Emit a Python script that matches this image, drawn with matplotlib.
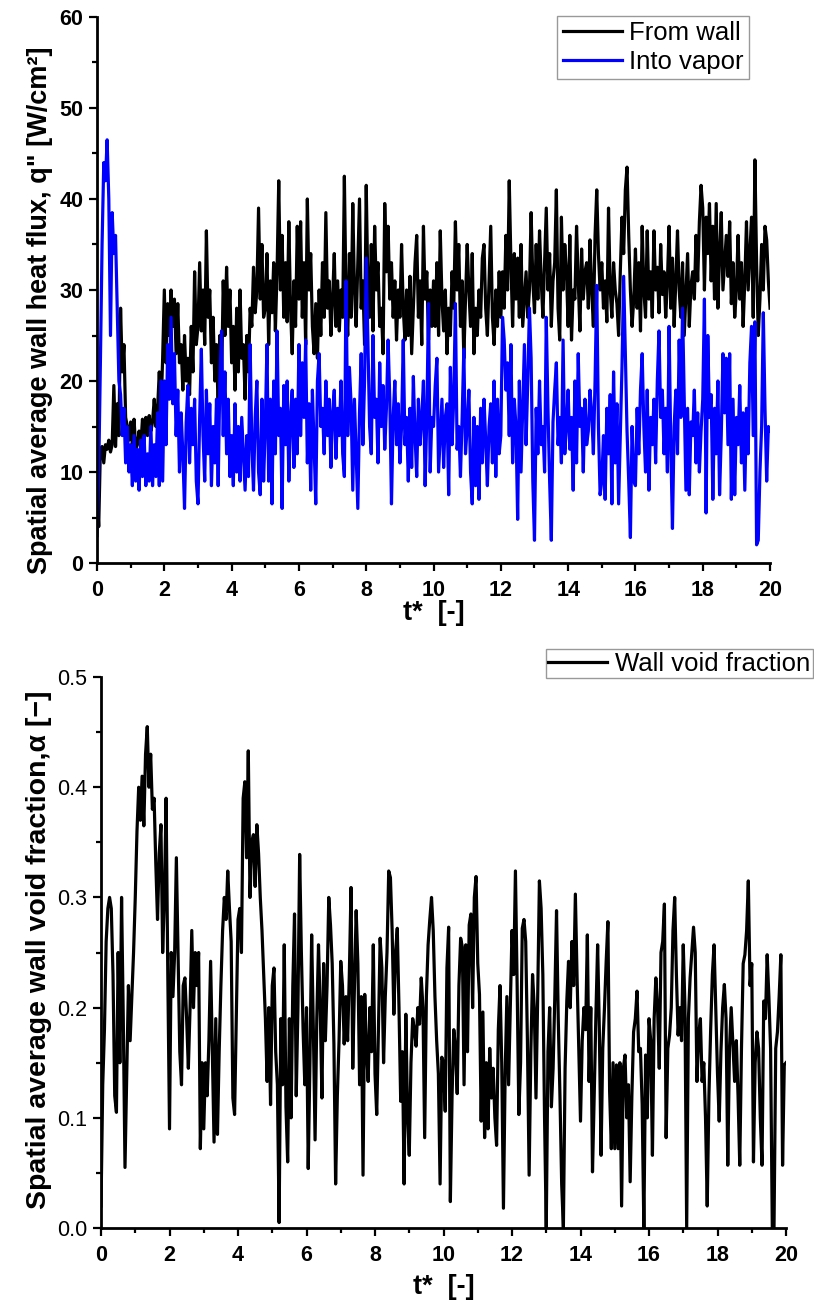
import numpy as np
import matplotlib
matplotlib.use("Agg")
import matplotlib.pyplot as plt
from matplotlib.ticker import MultipleLocator, FormatStrFormatter

plt.rcParams['font.family'] = ['Liberation Sans', 'DejaVu Sans']

# ---------------- data (sampled every 0.05 in t*) ----------------
q_from_wall = [
    8.0, 4.0, 12.5, 12.8, 11.0, 13.0, 12.5, 13.5, 12.2, 13.0, 19.5, 12.8, 17.5, 14.0, 28.0, 21.0, 24.0, 16.0, 15.0, 13.5,
    15.5, 13.0, 15.8, 12.5, 13.0, 14.5, 12.8, 15.8, 13.5, 16.0, 14.0, 16.2, 14.5, 15.5, 18.0, 15.0, 17.0, 21.0, 16.5, 22.5,
    30.0, 22.0, 28.5, 25.0, 30.0, 26.0, 29.0, 23.0, 28.5, 22.0, 24.0, 19.0, 25.0, 20.0, 22.5, 18.5, 26.0, 21.0, 32.0, 24.0,
    26.0, 33.0, 25.5, 30.0, 24.0, 36.5, 27.0, 30.0, 22.0, 27.0, 20.0, 24.0, 17.0, 25.0, 19.5, 31.0, 25.0, 32.5, 26.0, 30.0,
    22.0, 26.0, 19.0, 28.0, 21.0, 30.0, 22.5, 24.0, 18.0, 25.0, 21.0, 28.0, 26.0, 32.5, 27.5, 30.0, 39.0, 29.0, 35.0, 27.0,
    28.0, 34.0, 24.0, 31.0, 27.5, 33.0, 25.5, 32.0, 42.0, 30.0, 36.0, 27.0, 33.0, 26.5, 37.5, 28.0, 23.0, 31.0, 26.0, 37.0,
    29.0, 37.5, 27.0, 33.0, 24.0, 40.0, 30.0, 34.0, 26.0, 23.0, 28.5, 22.5, 30.0, 25.0, 33.0, 27.0, 38.5, 28.0, 31.0, 25.0,
    29.0, 34.0, 26.0, 31.0, 25.5, 30.0, 27.0, 42.5, 29.0, 25.0, 34.0, 27.0, 39.5, 30.0, 26.0, 33.0, 40.0, 28.0, 31.0, 24.0,
    41.5, 30.0, 27.0, 35.0, 25.5, 37.0, 30.0, 33.0, 26.0, 28.0, 23.0, 39.5, 32.0, 37.0, 29.0, 33.0, 27.0, 31.0, 24.5, 30.0,
    27.0, 35.0, 28.0, 24.5, 30.0, 25.0, 31.5, 23.0, 28.0, 33.0, 36.0, 27.0, 31.0, 24.0, 37.0, 29.0, 32.0, 24.5, 30.0, 26.0,
    31.0, 26.0, 33.0, 25.0, 36.5, 29.0, 25.5, 30.0, 23.0, 28.0, 25.0, 32.0, 28.0, 37.5, 30.0, 35.0, 26.0, 31.0, 22.5, 29.0,
    35.0, 30.0, 26.0, 34.0, 23.0, 28.0, 25.0, 30.0, 27.0, 33.5, 35.0, 28.0, 25.0, 31.0, 37.0, 27.0, 24.0, 30.0, 26.0, 32.0,
    27.0, 32.0, 28.0, 36.0, 30.0, 42.0, 33.0, 26.0, 34.0, 29.0, 33.5, 27.0, 35.0, 26.0, 29.0, 32.0, 27.0, 30.0, 38.5, 31.0,
    27.5, 35.0, 29.0, 36.5, 31.0, 27.0, 33.0, 39.0, 30.0, 34.0, 26.0, 31.0, 33.0, 41.0, 28.0, 24.5, 38.0, 30.0, 35.0, 32.0,
    26.0, 36.0, 24.5, 30.0, 29.0, 37.0, 31.0, 25.5, 34.5, 29.0, 32.0, 33.0, 28.0, 35.5, 30.0, 26.0, 36.0, 41.0, 34.0, 30.0,
    33.0, 28.0, 31.0, 26.5, 39.0, 30.0, 27.0, 33.0, 30.0, 28.5, 25.0, 32.0, 38.0, 34.0, 41.0, 43.5, 36.0, 30.0, 26.0, 29.0,
    34.5, 28.0, 33.0, 25.5, 37.0, 30.0, 27.0, 36.5, 29.0, 32.0, 27.0, 36.5, 30.0, 32.5, 27.5, 35.0, 29.5, 32.0, 27.0, 31.0,
    37.0, 28.0, 33.5, 26.0, 31.0, 36.5, 30.0, 27.0, 33.0, 25.0, 29.5, 34.0, 26.0, 30.5, 32.0, 29.0, 36.0, 31.0, 37.5, 41.5,
    39.0, 30.0, 38.0, 34.0, 39.5, 31.0, 37.0, 29.0, 39.5, 28.0, 34.0, 38.5, 30.0, 33.0, 36.0, 31.5, 37.5, 28.5, 33.0, 27.0,
    30.0, 36.0, 29.0, 33.0, 26.0, 31.0, 37.5, 30.0, 34.0, 38.0, 27.0, 44.3, 33.0, 25.0, 29.0, 35.0, 30.0, 37.0, 35.5, 31.0,
    28.0,
]

q_into_vapor = [
    3.0, 10.0, 22.0, 35.0, 44.0, 42.0, 46.5, 40.0, 25.0, 38.5, 34.0, 36.0, 28.0, 20.0, 18.5, 14.0, 17.0, 11.0, 15.0, 10.0,
    13.0, 8.5, 14.0, 9.0, 12.5, 8.0, 13.5, 9.5, 14.0, 8.5, 12.0, 9.0, 15.0, 8.5, 13.0, 9.5, 16.5, 8.5, 20.0, 9.0,
    20.0, 13.0, 24.0, 18.0, 27.0, 17.5, 23.0, 14.0, 19.0, 10.0, 16.5, 12.0, 6.0, 15.5, 19.5, 11.0, 17.0, 13.0, 18.0, 9.0,
    6.5, 16.0, 23.5, 14.0, 9.0, 19.0, 12.0, 17.5, 8.5, 15.0, 11.0, 18.0, 8.5, 20.0, 25.5, 14.0, 21.0, 12.0, 18.0, 9.5,
    14.0, 8.5, 17.5, 10.0, 15.0, 9.0, 16.0, 12.0, 8.0, 14.0, 9.5, 24.0, 13.0, 8.0, 16.0, 20.0, 10.0, 7.5, 18.0, 9.0,
    15.0, 24.0, 9.0, 18.0, 6.5, 20.0, 12.0, 25.5, 14.0, 17.0, 6.0, 19.5, 13.0, 20.0, 9.0, 16.0, 19.0, 10.5, 18.0, 12.0,
    24.0, 14.0, 22.0, 16.0, 24.5, 11.0, 17.5, 8.0, 19.0, 13.0, 6.5, 20.0, 23.0, 15.0, 17.0, 12.0, 20.0, 14.0, 18.0, 10.5,
    16.5, 19.0, 11.5, 17.0, 14.0, 20.0, 12.0, 9.5, 31.0, 14.0, 21.5, 17.5, 8.0, 18.0, 12.0, 6.0, 16.5, 23.0, 13.0, 20.0,
    33.5, 24.0, 15.0, 12.0, 25.0, 16.0, 18.0, 11.0, 22.0, 15.0, 19.5, 12.5, 17.0, 24.5, 18.0, 6.5, 16.0, 20.0, 13.0, 17.5,
    11.0, 15.0, 24.5, 13.0, 16.0, 9.0, 17.0, 10.5, 20.5, 14.0, 9.5, 18.0, 13.0, 16.0, 20.0, 8.5, 16.0, 28.5, 10.0, 16.0,
    15.0, 19.5, 22.5, 10.0, 14.0, 18.0, 10.5, 16.0, 17.5, 7.5, 21.5, 13.0, 18.0, 28.5, 12.5, 15.0, 9.5, 16.0, 23.5, 12.0,
    15.0, 19.0, 10.0, 6.5, 16.0, 8.5, 15.0, 7.0, 17.0, 11.0, 18.0, 13.5, 8.5, 15.0, 17.5, 11.0, 20.0, 9.5, 18.0, 12.0,
    14.0, 27.0, 24.5, 19.0, 22.0, 14.0, 24.0, 11.0, 18.0, 15.0, 4.8, 20.0, 10.0, 17.0, 24.0, 13.0, 20.0, 28.0, 22.5, 9.0,
    2.5, 17.0, 12.0, 20.0, 13.0, 15.0, 10.0, 27.0, 17.0, 9.0, 2.5, 15.5, 19.0, 22.0, 13.0, 16.0, 11.0, 24.5, 12.0, 15.0,
    19.0, 12.5, 16.0, 8.0, 20.0, 11.0, 23.0, 15.0, 17.0, 10.0, 18.0, 13.0, 14.5, 19.0, 16.5, 12.0, 20.0, 30.5, 15.0, 7.5,
    9.0, 14.0, 7.0, 17.0, 12.0, 18.5, 6.5, 21.0, 11.0, 17.5, 6.5, 14.0, 21.5, 31.5, 23.0, 14.5, 9.0, 2.8, 15.0, 9.0,
    8.5, 17.0, 12.0, 19.0, 23.0, 15.0, 10.0, 19.0, 8.0, 16.0, 13.0, 18.0, 11.0, 20.0, 25.5, 16.0, 19.0, 12.0, 17.0, 10.0,
    26.0, 13.0, 3.8, 15.0, 19.0, 12.0, 24.5, 16.0, 28.0, 18.0, 8.0, 17.0, 7.5, 15.5, 14.0, 19.0, 11.0, 16.5, 10.0, 14.5,
    18.0, 29.0, 5.5, 25.0, 16.0, 18.5, 7.0, 17.0, 12.0, 20.0, 7.5, 14.0, 23.0, 16.5, 22.5, 13.0, 23.0, 7.0, 18.0, 7.5,
    16.0, 13.0, 19.5, 11.0, 16.5, 8.0, 17.0, 12.0, 22.0, 26.0, 14.0, 26.5, 2.0, 2.5, 10.0, 15.0, 27.5, 17.0, 9.0, 15.0,
    14.5,
]

void_fraction = [
    0.02, 0.13, 0.18, 0.26, 0.29, 0.30, 0.29, 0.23, 0.12, 0.105, 0.25, 0.15, 0.30, 0.19, 0.055, 0.14, 0.22, 0.17, 0.21, 0.25,
    0.30, 0.36, 0.40, 0.37, 0.41, 0.365, 0.43, 0.455, 0.40, 0.43, 0.38, 0.39, 0.33, 0.28, 0.34, 0.366, 0.25, 0.30, 0.39, 0.23,
    0.09, 0.25, 0.21, 0.25, 0.336, 0.25, 0.16, 0.13, 0.22, 0.227, 0.19, 0.145, 0.20, 0.27, 0.20, 0.25, 0.22, 0.25, 0.072, 0.15,
    0.09, 0.15, 0.12, 0.17, 0.242, 0.16, 0.078, 0.19, 0.085, 0.16, 0.22, 0.27, 0.30, 0.28, 0.324, 0.29, 0.26, 0.118, 0.103, 0.19,
    0.28, 0.29, 0.25, 0.39, 0.405, 0.336, 0.433, 0.30, 0.35, 0.357, 0.31, 0.366, 0.34, 0.30, 0.27, 0.23, 0.19, 0.133, 0.20, 0.112,
    0.22, 0.236, 0.16, 0.13, 0.005, 0.19, 0.13, 0.257, 0.11, 0.06, 0.19, 0.10, 0.22, 0.285, 0.12, 0.20, 0.339, 0.25, 0.18, 0.13,
    0.20, 0.054, 0.15, 0.266, 0.18, 0.08, 0.19, 0.257, 0.20, 0.118, 0.24, 0.17, 0.22, 0.30, 0.275, 0.24, 0.167, 0.04, 0.12, 0.17,
    0.242, 0.22, 0.167, 0.21, 0.17, 0.23, 0.309, 0.145, 0.22, 0.288, 0.24, 0.13, 0.21, 0.048, 0.212, 0.163, 0.133, 0.20, 0.16, 0.257,
    0.14, 0.103, 0.18, 0.263, 0.236, 0.15, 0.21, 0.25, 0.324, 0.318, 0.27, 0.194, 0.25, 0.272, 0.20, 0.115, 0.16, 0.04, 0.194, 0.103,
    0.066, 0.15, 0.19, 0.18, 0.165, 0.20, 0.185, 0.227, 0.20, 0.082, 0.21, 0.257, 0.28, 0.30, 0.27, 0.21, 0.17, 0.14, 0.04, 0.155,
    0.15, 0.106, 0.236, 0.273, 0.024, 0.12, 0.18, 0.163, 0.122, 0.22, 0.263, 0.255, 0.13, 0.257, 0.16, 0.275, 0.285, 0.20, 0.30, 0.319,
    0.24, 0.212, 0.097, 0.196, 0.082, 0.15, 0.09, 0.163, 0.118, 0.145, 0.10, 0.075, 0.18, 0.22, 0.15, 0.018, 0.14, 0.21, 0.13, 0.20,
    0.27, 0.23, 0.324, 0.22, 0.103, 0.15, 0.272, 0.28, 0.26, 0.17, 0.048, 0.16, 0.23, 0.20, 0.118, 0.21, 0.315, 0.29, 0.23, 0.10,
    0.0, 0.16, 0.20, 0.11, 0.145, 0.21, 0.288, 0.19, 0.12, 0.04, 0.0, 0.145, 0.206, 0.242, 0.20, 0.26, 0.22, 0.303, 0.227, 0.16,
    0.097, 0.17, 0.20, 0.18, 0.266, 0.133, 0.20, 0.051, 0.12, 0.194, 0.257, 0.18, 0.066, 0.163, 0.20, 0.242, 0.278, 0.124, 0.072, 0.15,
    0.072, 0.148, 0.072, 0.15, 0.02, 0.145, 0.157, 0.10, 0.13, 0.042, 0.12, 0.178, 0.19, 0.215, 0.16, 0.163, 0.112, 0.0, 0.157, 0.10,
    0.19, 0.17, 0.066, 0.19, 0.227, 0.20, 0.145, 0.25, 0.26, 0.294, 0.082, 0.163, 0.175, 0.20, 0.27, 0.30, 0.23, 0.175, 0.20, 0.17,
    0.257, 0.20, 0.0, 0.19, 0.227, 0.25, 0.273, 0.25, 0.133, 0.175, 0.19, 0.133, 0.15, 0.10, 0.02, 0.12, 0.18, 0.23, 0.257, 0.20,
    0.14, 0.097, 0.16, 0.20, 0.221, 0.19, 0.057, 0.163, 0.20, 0.166, 0.133, 0.17, 0.12, 0.057, 0.163, 0.24, 0.248, 0.27, 0.315, 0.22,
    0.24, 0.06, 0.15, 0.178, 0.163, 0.10, 0.057, 0.206, 0.19, 0.248, 0.21, 0.163, 0.0, 0.0, 0.163, 0.178, 0.21, 0.248, 0.057, 0.148,
    0.15,
]

t_start, t_end = 0.0, 20.0
top_labels = ["From wall", "Into vapor"]
bottom_label = "Wall void fraction"
top_ylabel = 'Spatial average wall heat flux, q" [W/cm²]'
bottom_ylabel = "Spatial average wall void fraction,α [−]"
xlabel = "t*  [-]"

# ---------------- figure ----------------
fig = plt.figure(figsize=(8.14, 13.06), dpi=100)
ax1 = fig.add_axes([0.1192, 0.5689, 0.8268, 0.4181])
ax2 = fig.add_axes([0.1241, 0.0597, 0.8415, 0.4219])

t_top = np.linspace(t_start, t_end, len(q_from_wall))
t_blue = np.linspace(t_start, t_end, len(q_into_vapor))
t_bot = np.linspace(t_start, t_end, len(void_fraction))

ax1.plot(t_top, q_from_wall, color="black", lw=2.3, label=top_labels[0])
ax1.plot(t_blue, q_into_vapor, color="#0000ff", lw=2.3, label=top_labels[1])
ax2.plot(t_bot, void_fraction, color="black", lw=2.3, label=bottom_label)


def style(ax, ymax, ymajor, yminor, ybold):
    ax.set_xlim(0, 20)
    ax.set_ylim(0, ymax)
    ax.xaxis.set_major_locator(MultipleLocator(2))
    ax.xaxis.set_minor_locator(MultipleLocator(1))
    ax.yaxis.set_major_locator(MultipleLocator(ymajor))
    ax.yaxis.set_minor_locator(MultipleLocator(yminor))
    for s in ["top", "right"]:
        ax.spines[s].set_visible(False)
    for s in ["left", "bottom"]:
        ax.spines[s].set_linewidth(2.0)
    ax.tick_params(which="major", direction="out", length=6, width=1.6)
    ax.tick_params(which="minor", direction="out", length=3.5, width=1.6)
    ax.tick_params(axis="x", which="major", pad=6)
    ax.tick_params(axis="y", which="major", pad=4)
    for lab in ax.get_xticklabels():
        lab.set_fontweight("bold")
        lab.set_fontsize(15.5)
    for lab in ax.get_yticklabels():
        lab.set_fontweight("bold" if ybold else "normal")
        lab.set_fontsize(15.5)


style(ax1, 60, 10, 5, True)
style(ax2, 0.5, 0.1, 0.05, False)
ax2.yaxis.set_major_formatter(FormatStrFormatter("%.1f"))
for lab in ax2.get_yticklabels():
    lab.set_fontweight("normal")
    lab.set_fontsize(15.5)

ax1.set_ylabel(top_ylabel, fontsize=19.5, fontweight="bold")
ax1.yaxis.set_label_coords(-0.066, 0.463)
ax1.set_xlabel(xlabel, fontsize=19.5, fontweight="bold")
ax1.xaxis.set_label_coords(0.5, -0.068)

ax2.set_ylabel(bottom_ylabel, fontsize=20.5, fontweight="bold")
ax2.yaxis.set_label_coords(-0.071, 0.505)
ax2.set_xlabel(xlabel, fontsize=19.5, fontweight="bold")
ax2.xaxis.set_label_coords(0.5, -0.083)

leg1 = ax1.legend(loc="upper right", bbox_to_anchor=(749 / 814, 1 - 16 / 1306),
                  bbox_transform=fig.transFigure, fontsize=18.5, frameon=True,
                  fancybox=False, handlelength=2.3, handletextpad=0.3,
                  borderpad=0.2, labelspacing=0.2, borderaxespad=0)
leg1.get_frame().set_edgecolor("#808080")
leg1.get_frame().set_linewidth(1.0)

leg2 = ax2.legend(loc="upper right", bbox_to_anchor=(813 / 814, 1 - 649 / 1306),
                  bbox_transform=fig.transFigure, fontsize=18.5, frameon=True,
                  fancybox=False, handlelength=2.3, handletextpad=0.3,
                  borderpad=0.1, borderaxespad=0)
leg2.get_frame().set_edgecolor("#808080")
leg2.get_frame().set_linewidth(1.0)

fig.savefig("out.png", dpi=100)
